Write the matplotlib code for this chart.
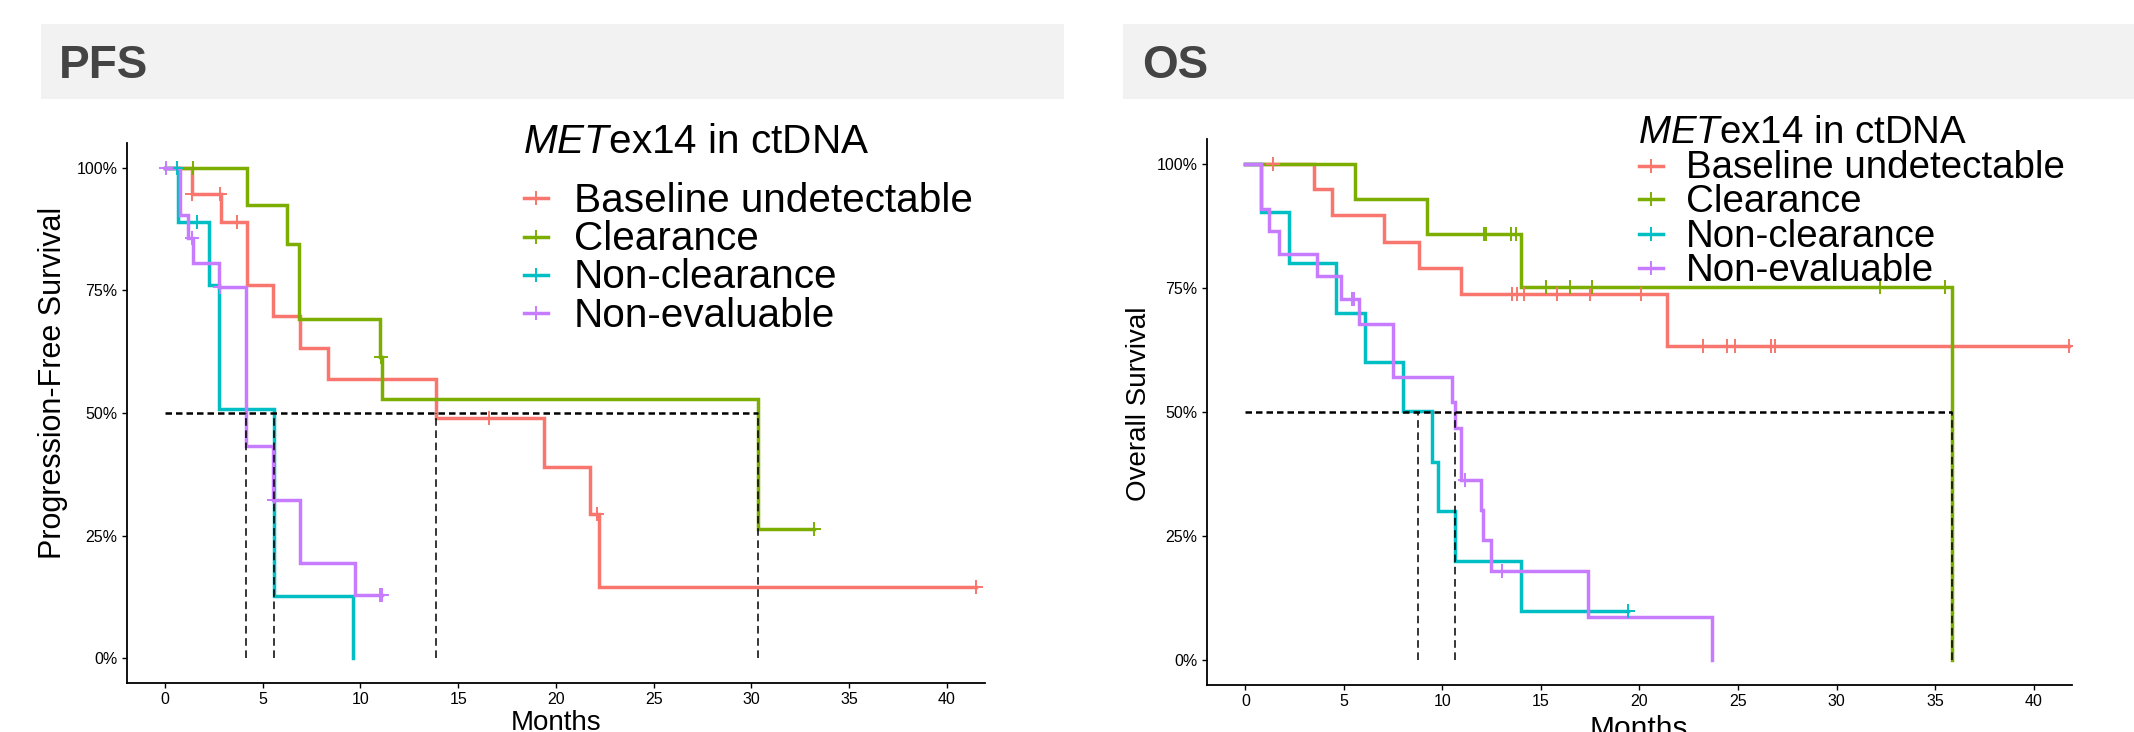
import numpy as np
import matplotlib
matplotlib.use('Agg')
import matplotlib.pyplot as plt
from matplotlib.patches import Rectangle

plt.rcParams['font.family'] = ['Liberation Sans', 'DejaVu Sans']
plt.rcParams['mathtext.fontset'] = 'custom'
plt.rcParams['mathtext.rm'] = 'Liberation Sans'
plt.rcParams['mathtext.it'] = 'Liberation Sans:italic'

W, H = 2134, 732

groups = ['Baseline undetectable', 'Clearance', 'Non-clearance', 'Non-evaluable']
colors = ['#F8766D', '#7CAE00', '#00BFC4', '#C77CFF']

# PFS: event times, survival after each event, censor times
pfs_base_t = [1.36, 2.85, 4.18, 5.51, 6.9, 8.32, 13.85, 19.37, 21.74, 22.2]
pfs_base_s = [0.946, 0.889, 0.760, 0.698, 0.633, 0.570, 0.489, 0.391, 0.294, 0.146]
pfs_base_c = [1.4, 2.8, 3.67, 16.6, 22.1, 41.5]

pfs_clear_t = [4.18, 6.26, 6.87, 11.0, 11.1, 30.33]
pfs_clear_s = [0.923, 0.845, 0.691, 0.614, 0.528, 0.264]
pfs_clear_c = [1.42, 11.05, 33.2]

pfs_nonclear_t = [0.68, 2.23, 2.78, 5.58, 9.63]
pfs_nonclear_s = [0.889, 0.760, 0.508, 0.127, 0.0]
pfs_nonclear_c = [0.6, 1.65]

pfs_noneval_t = [0.77, 1.19, 1.45, 2.78, 4.13, 5.55, 6.9, 9.72]
pfs_noneval_s = [0.904, 0.856, 0.806, 0.757, 0.433, 0.323, 0.194, 0.130]
pfs_noneval_c = [0.05, 1.4, 2.8, 5.6, 11.0, 11.1]

pfs_medians = [13.85, 30.33, 5.58, 4.13]

# OS
os_base_t = [3.46, 4.39, 7.03, 8.81, 10.92, 21.42]
os_base_s = [0.949, 0.896, 0.843, 0.791, 0.738, 0.632]
os_base_c = [1.39, 13.55, 13.79, 14.14, 15.8, 17.5, 20.1,
             23.2, 24.45, 24.85, 26.7, 26.9, 41.8]

os_clear_t = [5.57, 9.23, 13.97, 35.85]
os_clear_s = [0.929, 0.858, 0.751, 0.0]
os_clear_c = [12.1, 12.2, 13.5, 13.75, 15.28, 16.5, 17.6, 32.2, 35.5]

os_nonclear_t = [0.8, 2.24, 4.61, 6.05, 8.0, 9.47, 9.77, 10.65, 14.0]
os_nonclear_s = [0.902, 0.801, 0.700, 0.600, 0.502, 0.400, 0.300, 0.200, 0.099]
os_nonclear_c = [19.4]

os_noneval_t = [0.8, 1.18, 1.73, 3.62, 4.83, 5.76, 7.48, 10.5, 10.65,
                10.92, 11.98, 12.05, 12.48, 17.37, 23.67]
os_noneval_s = [0.909, 0.865, 0.819, 0.773, 0.728, 0.677, 0.571, 0.520, 0.467,
                0.363, 0.302, 0.242, 0.180, 0.087, 0.0]
os_noneval_c = [5.42, 5.54, 11.16, 13.0]

os_medians = [None, 35.85, 8.76, 10.65]

pfs_curves = [(pfs_base_t, pfs_base_s, pfs_base_c),
              (pfs_clear_t, pfs_clear_s, pfs_clear_c),
              (pfs_nonclear_t, pfs_nonclear_s, pfs_nonclear_c),
              (pfs_noneval_t, pfs_noneval_s, pfs_noneval_c)]
os_curves = [(os_base_t, os_base_s, os_base_c),
             (os_clear_t, os_clear_s, os_clear_c),
             (os_nonclear_t, os_nonclear_s, os_nonclear_c),
             (os_noneval_t, os_noneval_s, os_noneval_c)]

y_ticks = [0, 0.25, 0.5, 0.75, 1.0]
y_ticklabels = ['0%', '25%', '50%', '75%', '100%']
x_ticks = [0, 5, 10, 15, 20, 25, 30, 35, 40]


def fx(px):
    return px / W


def fy(py):
    return 1 - py / H


fig = plt.figure(figsize=(W / 100, H / 100), dpi=100)


def draw_km(ax, curves, medians):
    for (t, s, c), col in zip(curves, colors):
        tt = [0] + list(t)
        ss = [1.0] + list(s)
        end = max(tt[-1], max(c) if c else 0)
        if end > tt[-1]:
            tt.append(end)
            ss.append(ss[-1])
        ax.step(tt, ss, where='post', color=col, lw=2.5, zorder=3,
                solid_joinstyle='miter')
        tarr = np.array(t)
        for ct in c:
            i = np.searchsorted(tarr, ct, side='right') - 1
            lvl = 1.0 if i < 0 else s[i]
            ax.plot(ct, lvl, marker='+', color=col, ms=10, mew=1.4,
                    zorder=4, ls='none')
    meds = [m for m in medians if m is not None]
    ax.plot([0, max(meds)], [0.5, 0.5], color='black', lw=1.8,
            ls=(0, (2.6, 1.6)), zorder=5)
    for m in meds:
        ax.plot([m, m], [0, 0.5], color='black', lw=1.1,
                ls=(0, (5, 3)), zorder=5)
    ax.set_ylim(-0.05, 1.05)
    ax.set_xlim(-1.97, 41.95)
    ax.set_xticks(x_ticks)
    ax.set_yticks(y_ticks)
    ax.set_yticklabels(y_ticklabels)
    for side in ['top', 'right']:
        ax.spines[side].set_visible(False)
    for side in ['left', 'bottom']:
        ax.spines[side].set_linewidth(1.3)
    ax.tick_params(direction='out', length=3.5, width=1.0,
                   labelsize=11.5, pad=3, colors='black')


def draw_legend(x_title, y_title, x_key, x_text, y_rows, size, drop):
    fig.text(fx(x_title), fy(y_title), r'$\it{MET}$ex14 in ctDNA',
             fontsize=size, va='baseline', ha='left')
    for g, col, yc in zip(groups, colors, y_rows):
        fig.add_artist(plt.Line2D([fx(x_key - 12), fx(x_key + 12)],
                                  [fy(yc), fy(yc)], color=col, lw=2.5))
        fig.add_artist(plt.Line2D([fx(x_key)], [fy(yc)], marker='+',
                                  color=col, ms=10, mew=1.4))
        fig.text(fx(x_text), fy(yc + drop), g, fontsize=size,
                 va='baseline', ha='left')


# header strips
fig.add_artist(Rectangle((fx(41), fy(99)), fx(1064) - fx(41), fy(24) - fy(99),
                         transform=fig.transFigure, color='#F2F2F2', lw=0))
fig.add_artist(Rectangle((fx(1123), fy(99)), 1 - fx(1123), fy(24) - fy(99),
                         transform=fig.transFigure, color='#F2F2F2', lw=0))
fig.text(fx(59), fy(78), 'PFS', fontsize=33, fontweight='bold',
         color='#444444', va='baseline', ha='left')
fig.text(fx(1142), fy(78), 'OS', fontsize=33, fontweight='bold',
         color='#444444', va='baseline', ha='left')

# PFS panel
ax1 = fig.add_axes([fx(126.5), fy(683), fx(985) - fx(126.5), fy(143) - fy(683)])
draw_km(ax1, pfs_curves, pfs_medians)
ax1.set_xlabel('Months', fontsize=20, labelpad=2)
ax1.set_ylabel('Progression-Free Survival', fontsize=22)
ax1.yaxis.set_label_coords(-0.068, 0.556)

# OS panel
ax2 = fig.add_axes([fx(1206.5), fy(685), fx(2072) - fx(1206.5), fy(139) - fy(685)])
draw_km(ax2, os_curves, os_medians)
ax2.set_xlabel('Months', fontsize=21.5, labelpad=4)
ax2.set_ylabel('Overall Survival', fontsize=20)
ax2.yaxis.set_label_coords(-0.063, 0.516)

draw_legend(523, 153.3, 536, 574, [198.3, 237, 275, 313], 29.2, 13.5)
draw_legend(1638, 143.3, 1651, 1686, [165.7, 199.3, 234.3, 268.3], 27.7, 12.5)

fig.savefig('out.png', dpi=100)
